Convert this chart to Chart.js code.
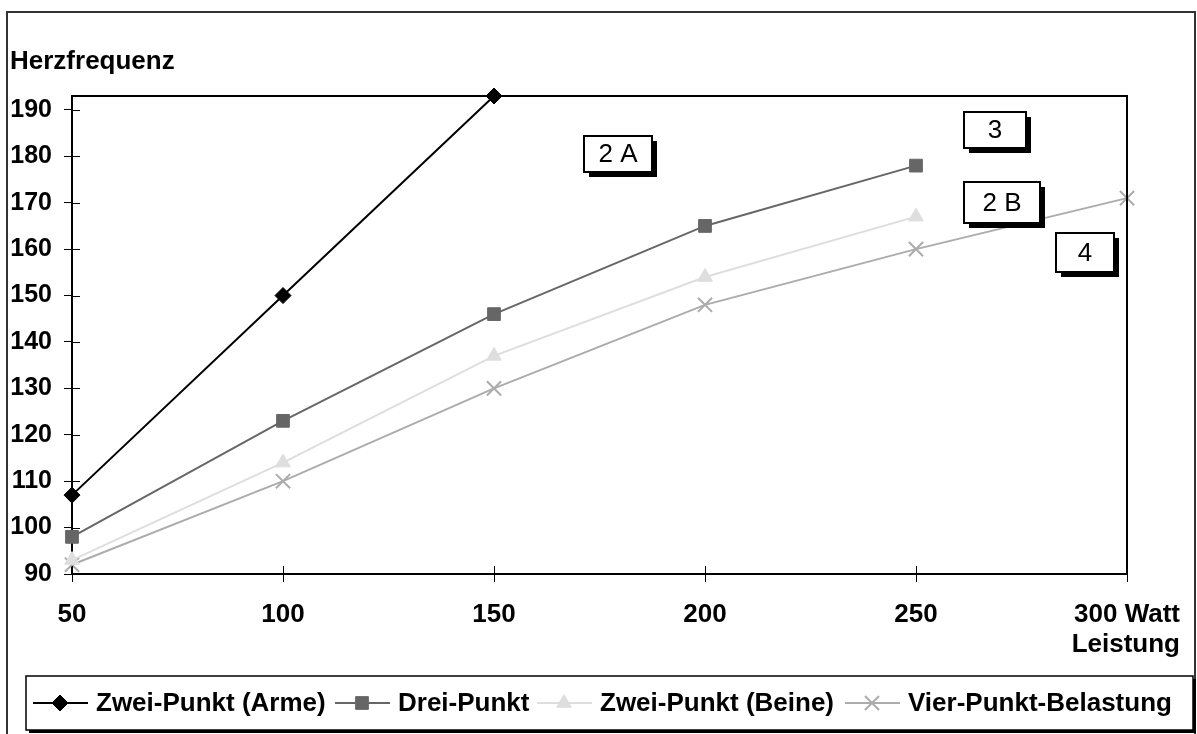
<!DOCTYPE html>
<html>
<head>
<meta charset="utf-8">
<title>Herzfrequenz</title>
<script src="https://cdn.jsdelivr.net/npm/chart.js"></script>
<style>
    html, body { margin: 0; padding: 0; background: #fff; }
    .chart-wrap { position: relative; width: 1197px; height: 734px; }
</style>
</head>
<body>
<div class="chart-wrap"><canvas id="hrChart"></canvas></div>
<script>
// Data
const xLabels = ['50', '100', '150', '200', '250', '300 Watt'];
const yTicks = [90, 100, 110, 120, 130, 140, 150, 160, 170, 180, 190];
const seriesNames = ['Zwei-Punkt (Arme)', 'Drei-Punkt', 'Zwei-Punkt (Beine)', 'Vier-Punkt-Belastung'];
const zweiPunktArme = [107, 150, 193];
const dreiPunkt = [98, 123, 146, 165, 178];
const zweiPunktBeine = [93, 114, 137, 154, 167];
const vierPunkt = [92, 110, 130, 148, 160, 171];

const FONT = '"Liberation Sans", Arial, sans-serif';

// Boxed labels inside the plot
const boxNotes = [
    { text: '2 A', x: 584, y: 136, w: 68, h: 36 },
    { text: '3', x: 964, y: 112, w: 62, h: 36 },
    { text: '2 B', x: 964, y: 182, w: 76, h: 41 },
    { text: '4', x: 1056, y: 233, w: 58, h: 39 }
];

// Legend item start positions
const legendStarts = [33, 335, 537, 845];

function makeSet(label, data, color, style, radius, borderW) {
    return {
        label: label,
        data: data,
        borderColor: color,
        backgroundColor: color,
        borderWidth: 2,
        pointStyle: style,
        pointRadius: radius,
        pointHoverRadius: radius,
        pointBorderWidth: borderW,
        pointBackgroundColor: color,
        pointBorderColor: color,
        tension: 0,
        clip: false
    };
}

// Frame, plot border, inner tick halves, titles, notes, legend
const decorPlugin = {
    id: 'decor',
    beforeDraw(chart) {
        const ctx = chart.ctx;
        ctx.save();
        ctx.fillStyle = '#fff';
        ctx.fillRect(0, 0, chart.width, chart.height);
        ctx.strokeStyle = '#333';
        ctx.lineWidth = 2;
        ctx.strokeRect(7, 12, 1188, 760);
        ctx.restore();
    },
    afterDatasetsDraw(chart) {
        const ctx = chart.ctx;
        const a = chart.chartArea;
        const xs = chart.scales.x;
        const ys = chart.scales.y;
        ctx.save();
        ctx.strokeStyle = '#000';
        ctx.lineWidth = 2;
        ctx.beginPath();
        ctx.moveTo(a.left, a.top);
        ctx.lineTo(a.right, a.top);
        ctx.lineTo(a.right, a.bottom);
        ctx.stroke();

        ctx.lineWidth = 1;
        ctx.beginPath();
        yTicks.forEach(v => {
            const py = Math.round(ys.getPixelForValue(v)) + 0.5;
            ctx.moveTo(a.left, py);
            ctx.lineTo(a.left + 8, py);
        });
        xLabels.forEach((l, i) => {
            const px = Math.round(xs.getPixelForValue(i)) + 0.5;
            ctx.moveTo(px, a.bottom);
            ctx.lineTo(px, a.bottom - 8);
        });
        ctx.stroke();

        // titles
        ctx.fillStyle = '#000';
        ctx.font = 'bold 26px ' + FONT;
        ctx.textBaseline = 'middle';
        ctx.textAlign = 'left';
        ctx.fillText('Herzfrequenz', 10, 62);
        ctx.textAlign = 'right';
        ctx.fillText('Leistung', 1180, 645);

        // boxed notes
        ctx.font = '26px ' + FONT;
        ctx.textAlign = 'center';
        boxNotes.forEach(b => {
            ctx.fillStyle = '#000';
            ctx.fillRect(b.x + 5, b.y + 5, b.w, b.h);
            ctx.fillStyle = '#fff';
            ctx.fillRect(b.x, b.y, b.w, b.h);
            ctx.strokeStyle = '#000';
            ctx.lineWidth = 2;
            ctx.strokeRect(b.x, b.y, b.w, b.h);
            ctx.fillStyle = '#000';
            ctx.fillText(b.text, b.x + b.w / 2, b.y + b.h / 2 + 1);
        });
        ctx.restore();
    },
    afterDraw(chart) {
        const ctx = chart.ctx;
        const top = 676, bottom = 730, left = 26, right = 1193;
        ctx.save();
        ctx.fillStyle = '#000';
        ctx.fillRect(left + 3, top + 3, right - left, bottom - top);
        ctx.fillStyle = '#fff';
        ctx.fillRect(left, top, right - left, bottom - top);
        ctx.strokeStyle = '#000';
        ctx.lineWidth = 1.5;
        ctx.strokeRect(left, top, right - left, bottom - top);

        const cy = (top + bottom) / 2;
        ctx.font = 'bold 26px ' + FONT;
        ctx.textBaseline = 'middle';
        ctx.textAlign = 'left';
        chart.data.datasets.forEach((ds, i) => {
            const x = legendStarts[i];
            ctx.strokeStyle = ds.borderColor;
            ctx.lineWidth = 2;
            ctx.beginPath();
            ctx.moveTo(x, cy);
            ctx.lineTo(x + 55, cy);
            ctx.stroke();
            ctx.fillStyle = ds.pointBackgroundColor;
            ctx.strokeStyle = ds.pointBorderColor;
            ctx.lineWidth = ds.pointBorderWidth;
            Chart.helpers.drawPoint(ctx, {
                pointStyle: ds.pointStyle,
                radius: ds.pointRadius,
                rotation: 0,
                borderWidth: ds.pointBorderWidth
            }, x + 27, cy);
            ctx.fillStyle = '#000';
            ctx.fillText(ds.label, x + 63, cy + 1);
        });
        ctx.restore();
    }
};

const ctx = document.getElementById('hrChart');
new Chart(ctx, {
    type: 'line',
    data: {
        labels: xLabels,
        datasets: [
            makeSet(seriesNames[0], zweiPunktArme, '#000000', 'rectRot', 8, 1),
            makeSet(seriesNames[1], dreiPunkt, '#666666', 'rect', 9, 1),
            makeSet(seriesNames[2], zweiPunktBeine, '#dedede', 'triangle', 8.5, 1),
            makeSet(seriesNames[3], vierPunkt, '#acacac', 'crossRot', 10, 2)
        ]
    },
    options: {
        responsive: true,
        maintainAspectRatio: false,
        animation: false,
        layout: {
            padding: { left: 0, right: 70, top: 96, bottom: 100 }
        },
        plugins: {
            legend: { display: false },
            tooltip: { enabled: false }
        },
        scales: {
            x: {
                type: 'category',
                offset: false,
                grid: {
                    drawOnChartArea: false,
                    drawTicks: true,
                    tickLength: 8,
                    color: '#000'
                },
                border: { display: true, color: '#000', width: 2 },
                ticks: {
                    color: '#000',
                    font: { family: FONT, size: 26, weight: 'bold' },
                    padding: 17,
                    maxRotation: 0,
                    autoSkip: false
                },
                afterFit(scale) { scale.height = 60; }
            },
            y: {
                min: 90,
                max: 193,
                grid: {
                    drawOnChartArea: false,
                    drawTicks: true,
                    tickLength: 8,
                    color: '#000'
                },
                border: { display: true, color: '#000', width: 2 },
                ticks: {
                    color: '#000',
                    font: { family: FONT, size: 25, weight: 'bold' },
                    padding: 12
                },
                afterBuildTicks(scale) {
                    scale.ticks = yTicks.map(v => ({ value: v }));
                },
                afterFit(scale) { scale.width = 72; }
            }
        }
    },
    plugins: [decorPlugin]
});
</script>
</body>
</html>
